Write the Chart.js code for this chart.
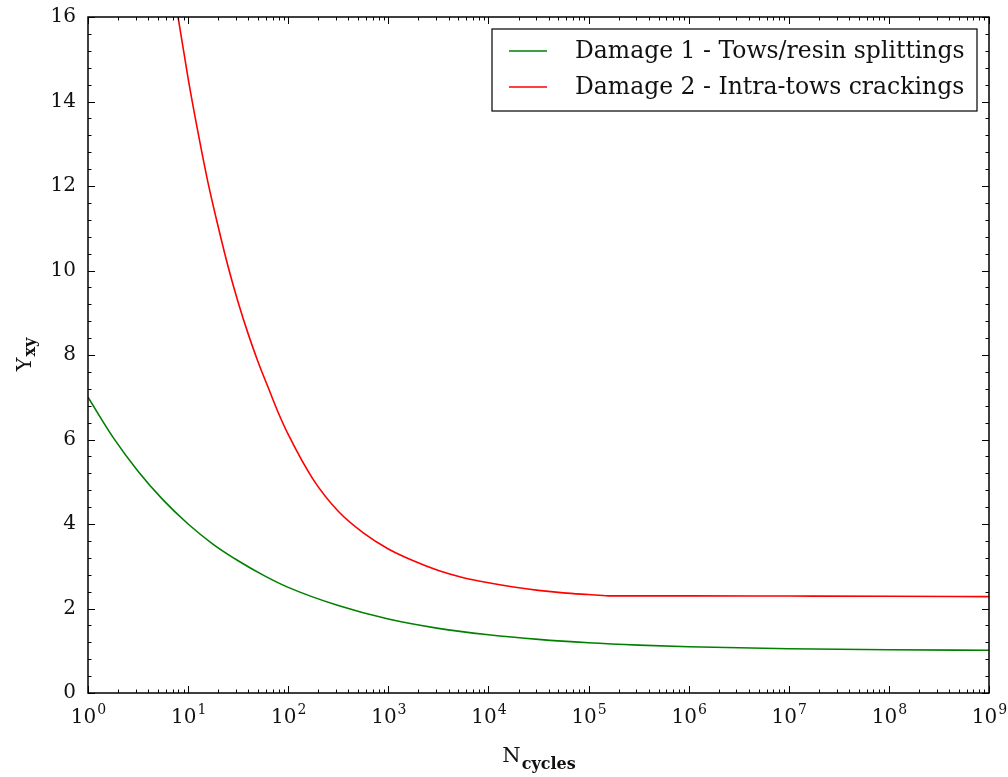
<!DOCTYPE html>
<html>
<head>
<meta charset="utf-8">
<script src="https://cdn.jsdelivr.net/npm/chart.js@4.4.1/dist/chart.umd.min.js"></script>
<style>
  html, body { margin: 0; padding: 0; background: #fff; }
  #wrap { width: 1008px; height: 777px; }
</style>
</head>
<body>
<div id="wrap"><canvas id="damage-chart" width="1008" height="777"></canvas></div>
<script>
// Damage 1 - tows/resin splittings
const cycles1 = [1, 1.78, 3.16, 5.62, 10, 17.8, 31.6, 56.2, 100, 316, 1000, 3162,
                 1e4, 3.16e4, 1e5, 3.16e5, 1e6, 1e7, 1e8, 1e9];
const damage1 = [7.0, 6.05, 5.25, 4.57, 4.0, 3.52, 3.13, 2.79, 2.5, 2.07, 1.75, 1.53,
                 1.38, 1.27, 1.19, 1.134, 1.095, 1.048, 1.024, 1.012];

// Damage 2 - intra-tows crackings
const cycles2 = [7.94, 10, 12.6, 15.8, 20, 25.1, 31.6, 39.8, 50.1, 63.1, 79.4, 100,
                 178, 316, 562, 1000, 1778, 3162, 5623, 1e4, 1.78e4, 3.16e4, 5.62e4,
                 1e5, 1.58e5, 1e6, 1e7, 1e8, 1e9];
const damage2 = [16.0, 14.55, 13.25, 12.08, 11.03, 10.09, 9.25, 8.5, 7.83, 7.23, 6.64, 6.12,
                 5.05, 4.3, 3.79, 3.41, 3.13, 2.9, 2.73, 2.61, 2.51, 2.43, 2.37,
                 2.33, 2.30, 2.30, 2.295, 2.29, 2.28];

const seriesLabels = ['Damage 1 - Tows/resin splittings', 'Damage 2 - Intra-tows crackings'];
const seriesColors = ['#008000', '#ff0000'];

// axis ticks
const xTickExps = [0, 1, 2, 3, 4, 5, 6, 7, 8, 9];
const yTicks = [0, 2, 4, 6, 8, 10, 12, 14, 16];
const yMinorStep = 0.4;

const FONT = '"DejaVu Serif", "Liberation Serif", serif';

function toPoints(xs, ys) {
    return xs.map((x, i) => ({ x: x, y: ys[i] }));
}

// text with a raised or lowered small part, e.g. 10^3 or N_cycles
function drawScript(ctx, base, extra, x, y, baseFont, extraFont, shift, align) {
    ctx.font = baseFont;
    const w1 = ctx.measureText(base).width;
    ctx.font = extraFont;
    const w2 = ctx.measureText(extra).width;
    let start = x;
    if (align === 'center') start = x - (w1 + w2) / 2;
    ctx.textAlign = 'left';
    ctx.font = baseFont;
    ctx.fillText(base, start, y);
    ctx.font = extraFont;
    ctx.fillText(extra, start + w1 + 1, y + shift);
}

const frameAndTicks = {
    id: 'frameAndTicks',
    afterDatasetsDraw(chart) {
        const { ctx, chartArea: a, scales: { x, y } } = chart;
        ctx.save();
        ctx.strokeStyle = '#000';
        ctx.fillStyle = '#111';
        ctx.lineWidth = 1;

        // inward ticks on all four sides
        ctx.beginPath();
        const yMax = yTicks[yTicks.length - 1];
        for (let i = 0; i * yMinorStep <= yMax + 1e-9; i++) {
            const v = i * yMinorStep;
            const major = Math.abs(v / 2 - Math.round(v / 2)) < 1e-6;
            const len = major ? 7 : 3.5;
            const py = Math.round(y.getPixelForValue(v)) + 0.5;
            ctx.moveTo(a.left, py); ctx.lineTo(a.left + len, py);
            ctx.moveTo(a.right, py); ctx.lineTo(a.right - len, py);
        }
        for (const e of xTickExps) {
            for (let m = 1; m <= 9; m++) {
                const v = m * Math.pow(10, e);
                if (v > x.max) break;
                const len = m === 1 ? 7 : 3.5;
                const px = Math.round(x.getPixelForValue(v)) + 0.5;
                ctx.moveTo(px, a.bottom); ctx.lineTo(px, a.bottom - len);
                ctx.moveTo(px, a.top); ctx.lineTo(px, a.top + len);
            }
        }
        ctx.stroke();

        // frame
        ctx.lineWidth = 1.5;
        ctx.strokeRect(a.left, a.top, a.right - a.left, a.bottom - a.top);

        // y tick labels
        ctx.font = '20px ' + FONT;
        ctx.textAlign = 'right';
        ctx.textBaseline = 'middle';
        for (const v of yTicks) {
            ctx.fillText(String(v), a.left - 12, y.getPixelForValue(v));
        }

        // x tick labels 10^n
        ctx.textBaseline = 'alphabetic';
        for (const e of xTickExps) {
            const px = x.getPixelForValue(Math.pow(10, e));
            drawScript(ctx, '10', String(e), px, a.bottom + 30, '20px ' + FONT, '14px ' + FONT, -9, 'center');
        }

        // axis titles
        drawScript(ctx, 'N', 'cycles', (a.left + a.right) / 2, a.bottom + 69,
                   '21px ' + FONT, 'bold 16px ' + FONT, 7, 'center');
        ctx.save();
        ctx.translate(31, (a.top + a.bottom) / 2);
        ctx.rotate(-Math.PI / 2);
        drawScript(ctx, 'Y', 'xy', 0, 0, '21px ' + FONT, 'bold 16px ' + FONT, 4, 'center');
        ctx.restore();

        // legend box
        const lx = 492, ly = 29, lw = 485, lh = 82;
        ctx.fillStyle = '#fff';
        ctx.fillRect(lx, ly, lw, lh);
        ctx.lineWidth = 1.2;
        ctx.strokeStyle = '#000';
        ctx.strokeRect(lx, ly, lw, lh);
        chart.data.datasets.forEach((ds, i) => {
            const rowY = ly + 22 + i * 36;
            ctx.strokeStyle = ds.borderColor;
            ctx.lineWidth = 1.5;
            ctx.beginPath();
            ctx.moveTo(lx + 17, rowY);
            ctx.lineTo(lx + 55, rowY);
            ctx.stroke();
            ctx.fillStyle = '#111';
            ctx.font = '23.5px ' + FONT;
            ctx.textAlign = 'left';
            ctx.textBaseline = 'middle';
            ctx.fillText(ds.label, lx + 83, rowY + 1);
        });
        ctx.restore();
    }
};

const ctx = document.getElementById('damage-chart').getContext('2d');
new Chart(ctx, {
    type: 'line',
    data: {
        datasets: [
            {
                label: seriesLabels[0],
                data: toPoints(cycles1, damage1),
                borderColor: seriesColors[0],
                borderWidth: 1.6,
                pointRadius: 0,
                cubicInterpolationMode: 'monotone',
                fill: false,
            },
            {
                label: seriesLabels[1],
                data: toPoints(cycles2, damage2),
                borderColor: seriesColors[1],
                borderWidth: 1.6,
                pointRadius: 0,
                cubicInterpolationMode: 'monotone',
                fill: false,
            },
        ],
    },
    options: {
        responsive: false,
        animation: false,
        events: [],
        layout: {
            padding: { left: 88, top: 17, right: 19, bottom: 84 },
        },
        plugins: {
            legend: { display: false },
            tooltip: { enabled: false },
        },
        scales: {
            x: {
                type: 'logarithmic',
                min: 1,
                max: 1e9,
                grid: { display: false },
                border: { display: false },
                ticks: { display: false },
                afterFit: (s) => { s.height = 0; s.paddingLeft = 0; s.paddingRight = 0; },
            },
            y: {
                type: 'linear',
                min: 0,
                max: 16,
                grid: { display: false },
                border: { display: false },
                ticks: { display: false, stepSize: 2 },
                afterFit: (s) => { s.width = 0; s.paddingTop = 0; s.paddingBottom = 0; },
            },
        },
    },
    plugins: [frameAndTicks],
});
</script>
</body>
</html>
